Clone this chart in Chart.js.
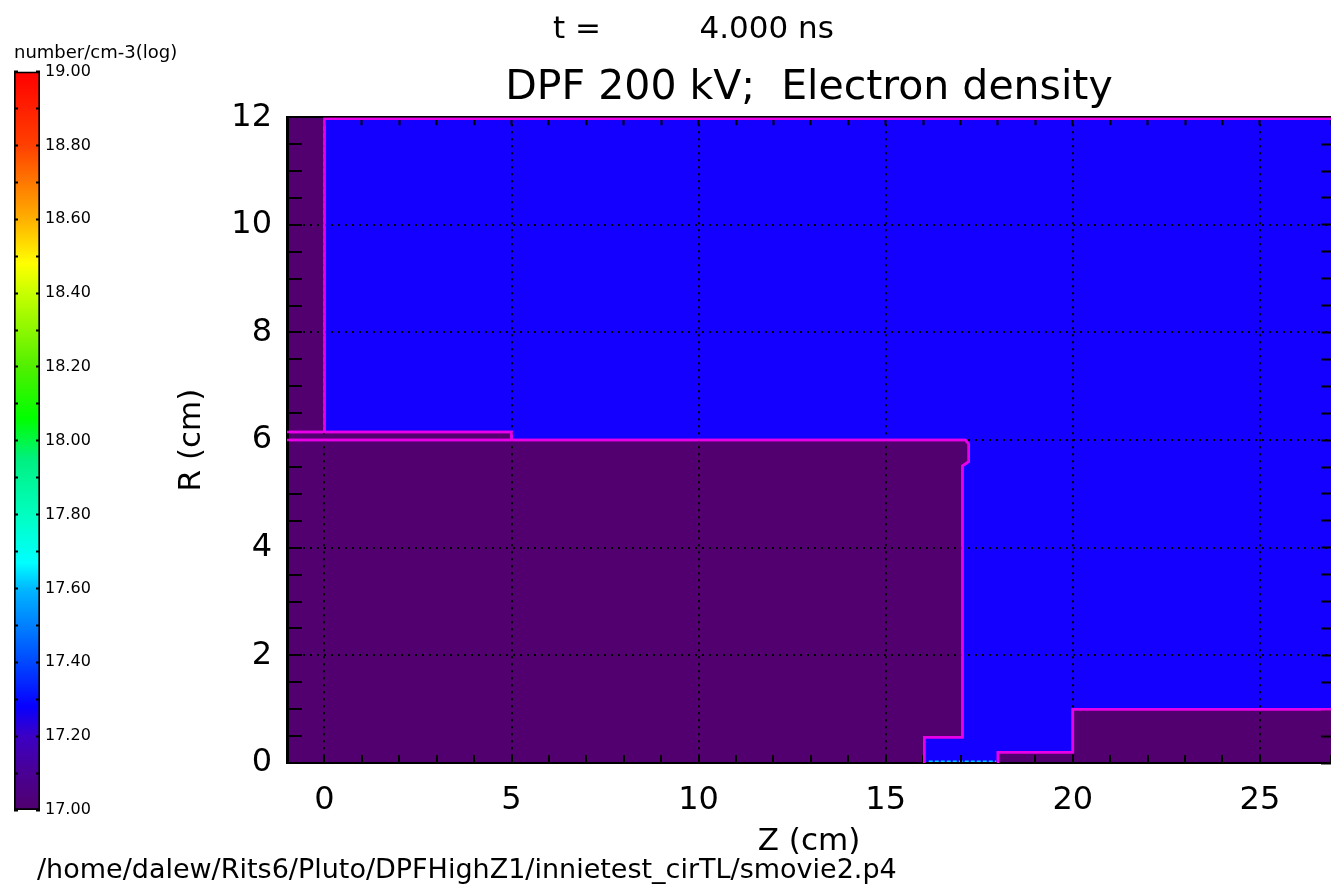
<!DOCTYPE html>
<html>
<head>
<meta charset="utf-8">
<title>DPF 200 kV; Electron density</title>
<script src="https://cdn.jsdelivr.net/npm/chart.js@4/dist/chart.umd.min.js"></script>
<style>
  body { margin: 0; background: #fff; }
  #wrap { position: relative; width: 1331px; height: 888px; overflow: hidden; font-family: "DejaVu Sans", sans-serif; }
  #myChart, #colorBar { position: absolute; left: 0; top: 0; }
  .txt { position: absolute; white-space: pre; color: #000; line-height: 1; }
</style>
</head>
<body>
<div id="wrap">
  <canvas id="myChart" width="1331" height="888"></canvas>
  <canvas id="colorBar" width="180" height="888"></canvas>
  <div class="txt" style="left:553px; top:12px; font-size:31px;">t =          4.000 ns</div>
  <div class="txt" style="left:37px; top:855px; font-size:27px;">/home/dalew/Rits6/Pluto/DPFHighZ1/innietest_cirTL/smovie2.p4</div>
</div>
<script>
// plot ranges (cm)
const zRange = [-1, 26.9];
const rRange = [0, 12];

// whole box, higher density (blue)
const bgZ = [-1, 26.9];
const bgR = [12, 12];
// low density (purple) region, top and bottom outline
const lowTopZ = [-1, 0, 0, 5, 5, 17.13, 17.22];
const lowTopR = [12, 12, 6.15, 6.15, 6.0, 6.0, 5.93];
const lowBotZ = [-1, 16.03, 16.03, 17.05, 17.05, 17.22];
const lowBotR = [0, 0, 0.48, 0.48, 5.52, 5.6];
// low density steps on the axis, right side
const stepZ = [18, 18, 20, 20, 26.9];
const stepR = [0, 0.2, 0.2, 1.0, 1.0];
// material boundaries (magenta)
const edge1Z = [26.9, 0, 0];
const edge1R = [11.97, 11.97, 6.15];
const edge2Z = [-1, 5, 5];
const edge2R = [6.15, 6.15, 6.0];
const edge3Z = [-1, 17.13, 17.22, 17.22, 17.05, 17.05, 16.03, 16.03];
const edge3R = [6.0, 6.0, 5.93, 5.6, 5.52, 0.48, 0.48, 0];
const edge4Z = [18, 18, 20, 20, 26.9];
const edge4R = [0, 0.2, 0.2, 1.0, 1.0];
// thin denser layer on the axis
const axisZ = [16.15, 17.95];
const axisR = [0.03, 0.03];

// colour bar, log10(number/cm3)
const cbRange = [17, 19];
const cmapValues = [17.0, 17.1, 17.2, 17.28, 17.4, 17.5, 17.6, 17.67, 17.8, 17.95, 18.06, 18.2, 18.4, 18.48, 18.6, 18.8, 19.0];
const cmapColors = ['#50006e', '#4a0094', '#3c00c4', '#0800ff', '#0048ff', '#0080ff', '#00b8ff', '#00ffff', '#00ffc0', '#00f080', '#00ff00', '#50f000', '#c8ff00', '#ffff00', '#ffb000', '#ff4000', '#ff0000'];

const purple = '#52006f';
const blue = '#1400ff';
const magenta = '#e800e8';
const font = 'DejaVu Sans';

function pts(zs, rs) {
    return zs.map(function (z, i) { return { x: z, y: rs[i] }; });
}

// dotted grid only on the labelled ticks
function xGrid(c) {
    var v = c.tick ? c.tick.value : 0.5;
    return Math.abs(v - Math.round(v)) < 1e-6 && Math.round(v) % 5 === 0 ? '#000' : 'rgba(0,0,0,0)';
}
function yGrid(c) {
    var v = c.tick ? c.tick.value : 0;
    return v > 0 && v < 12 && Math.abs(v % 2) < 1e-6 ? '#000' : 'rgba(0,0,0,0)';
}

const data = {
    datasets: [
        { label: 'bg', data: pts(bgZ, bgR), borderWidth: 0, backgroundColor: blue, fill: 'start', order: 9 },
        { label: 'lowBot', data: pts(lowBotZ, lowBotR), borderWidth: 0, fill: false, order: 8 },
        { label: 'lowTop', data: pts(lowTopZ, lowTopR), borderWidth: 0, backgroundColor: purple, fill: 1, order: 7 },
        { label: 'step', data: pts(stepZ, stepR), borderWidth: 0, backgroundColor: purple, fill: 'start', order: 6 },
        { label: 'e1', data: pts(edge1Z, edge1R), borderColor: magenta, borderWidth: 2.5, fill: false, order: 3 },
        { label: 'e2', data: pts(edge2Z, edge2R), borderColor: magenta, borderWidth: 2.5, fill: false, order: 3 },
        { label: 'e3', data: pts(edge3Z, edge3R), borderColor: magenta, borderWidth: 2.5, fill: false, order: 3 },
        { label: 'e4', data: pts(edge4Z, edge4R), borderColor: magenta, borderWidth: 2.5, fill: false, order: 3 },
        { label: 'axis', data: pts(axisZ, axisR), borderColor: '#00c8ff', borderWidth: 2, borderDash: [4, 2], fill: false, order: 2 }
    ]
};

// contours go over the dotted grid, like in the original plot
const contoursOnTop = {
    id: 'contoursOnTop',
    afterDraw: function (chart) {
        var a = chart.chartArea;
        var ctx = chart.ctx;
        ctx.save();
        ctx.beginPath();
        ctx.rect(a.left, a.top, a.right - a.left, a.bottom - a.top);
        ctx.clip();
        chart.data.datasets.forEach(function (ds, i) {
            if (ds.label.charAt(0) === 'e') chart.getDatasetMeta(i).controller.draw();
        });
        ctx.restore();
    }
};

const config = {
    type: 'line',
    data: data,
    plugins: [contoursOnTop],
    options: {
        responsive: false,
        animation: false,
        events: [],
        layout: { padding: { top: 64, left: 0, right: 0, bottom: 0 } },
        elements: { point: { radius: 0 }, line: { tension: 0 } },
        plugins: {
            legend: { display: false },
            tooltip: { enabled: false },
            title: {
                display: true,
                text: 'DPF 200 kV;  Electron density',
                fullSize: false,
                color: '#000',
                font: { family: font, size: 41, weight: 'normal' },
                padding: { top: 0, bottom: 4 }
            }
        },
        scales: {
            x: {
                type: 'linear', position: 'bottom', min: zRange[0], max: zRange[1],
                ticks: {
                    // no padding here (it would also shrink the plot on the right); push labels down with lineHeight
                    stepSize: 1, autoSkip: false, maxRotation: 0, padding: 0, color: '#000',
                    font: { family: font, size: 32, lineHeight: 2.875 },
                    callback: function (v) { return Math.abs(v % 5) < 1e-6 ? String(Math.round(v)) : ''; }
                },
                grid: { color: xGrid, lineWidth: 2, tickLength: -8, tickColor: '#000', tickWidth: 2, z: 1 },
                border: { display: true, color: '#000', width: 2, dash: [2, 5], z: 1 },
                title: { display: true, text: 'Z (cm)', color: '#000', font: { family: font, size: 31 }, padding: { top: 0, bottom: 27 } },
                afterFit: function (s) { s.height = 125; }
            },
            x2: {
                type: 'linear', position: 'top', min: zRange[0], max: zRange[1],
                ticks: { stepSize: 1, autoSkip: false, display: false, padding: 0 },
                grid: { drawOnChartArea: false, tickLength: -8, tickColor: '#000', tickWidth: 2, z: 1 },
                border: { display: true, color: '#000', width: 2, z: 1 },
                afterFit: function (s) { s.height = 0; }
            },
            y: {
                type: 'linear', position: 'left', min: rRange[0], max: rRange[1],
                ticks: {
                    stepSize: 0.5, autoSkip: false, padding: 30, color: '#000',
                    font: { family: font, size: 32 },
                    callback: function (v) { return Math.abs(v % 2) < 1e-6 ? String(v) : ''; }
                },
                grid: { color: yGrid, lineWidth: 2, tickLength: -15, tickColor: '#000', tickWidth: 2, z: 1 },
                border: { display: true, color: '#000', width: 3, dash: [2, 5], z: 1 },
                title: { display: true, text: 'R (cm)', color: '#000', font: { family: font, size: 31 }, padding: { top: 173, bottom: 0 } },
                afterFit: function (s) { s.width = 287; }
            },
            y2: {
                type: 'linear', position: 'right', min: rRange[0], max: rRange[1],
                ticks: { stepSize: 0.5, autoSkip: false, display: false, padding: 0 },
                grid: { drawOnChartArea: false, tickLength: -10, tickColor: '#000', tickWidth: 2, z: 1 },
                border: { display: false },
                afterFit: function (s) { s.width = 0; }
            }
        }
    }
};
const myChart = new Chart(document.getElementById('myChart'), config);

// colour bar on the left
function barGradient(c) {
    var chart = c.chart;
    if (!chart.chartArea) return null;
    var ys = chart.scales.y;
    var g = chart.ctx.createLinearGradient(0, ys.getPixelForValue(cbRange[0]), 0, ys.getPixelForValue(cbRange[1]));
    cmapValues.forEach(function (v, i) {
        g.addColorStop((v - cbRange[0]) / (cbRange[1] - cbRange[0]), cmapColors[i]);
    });
    return g;
}

const barChart = new Chart(document.getElementById('colorBar'), {
    type: 'bar',
    data: {
        labels: ['density'],
        datasets: [{
            data: [cbRange],
            backgroundColor: barGradient,
            borderColor: '#000',
            borderWidth: 2,
            borderSkipped: false,
            barPercentage: 1,
            categoryPercentage: 1
        }]
    },
    options: {
        responsive: false,
        animation: false,
        events: [],
        layout: { padding: { top: 0, left: 14, right: 0, bottom: 78 } },
        plugins: {
            legend: { display: false },
            tooltip: { enabled: false },
            title: {
                display: true, text: 'number/cm-3(log)', align: 'start', color: '#000',
                font: { family: font, size: 18, weight: 'normal' },
                padding: { top: 43, bottom: 7 }
            }
        },
        scales: {
            x: { display: false },
            y: {
                position: 'right', min: cbRange[0], max: cbRange[1],
                ticks: {
                    stepSize: 0.1, autoSkip: false, padding: 9, color: '#000',
                    font: { family: font, size: 16 },
                    callback: function (v) { return Math.round(v * 10) % 2 === 0 ? v.toFixed(2) : ''; }
                },
                grid: { drawOnChartArea: false, tickLength: -4, tickColor: '#000', tickWidth: 2, z: 1 },
                border: { display: false },
                afterFit: function (s) { s.width = 140; }
            },
            yl: {
                position: 'left', min: cbRange[0], max: cbRange[1],
                ticks: { stepSize: 0.1, autoSkip: false, display: false },
                grid: { drawOnChartArea: false, tickLength: -4, tickColor: '#000', tickWidth: 2, z: 1 },
                border: { display: false },
                afterFit: function (s) { s.width = 0; }
            }
        }
    }
});
</script>
</body>
</html>
